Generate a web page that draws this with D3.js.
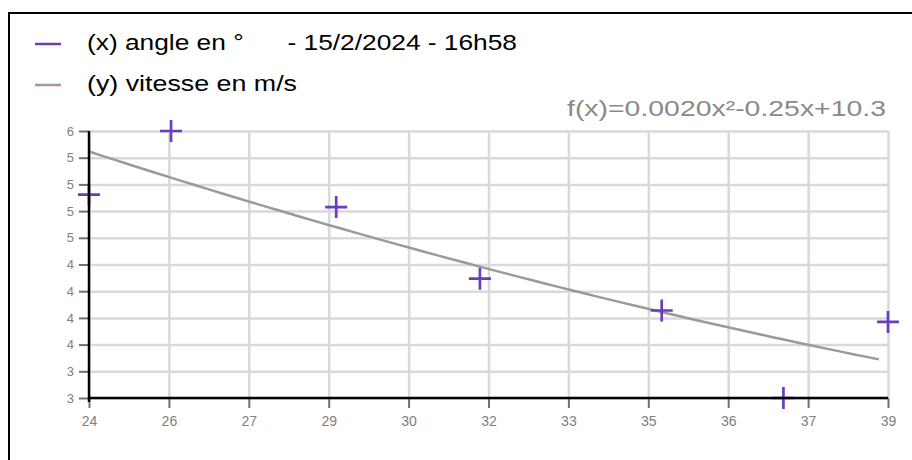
<!DOCTYPE html>
<html>
<head>
<meta charset="utf-8">
<script src="https://cdn.jsdelivr.net/npm/d3@7"></script>
<style>
  body { margin: 0; background: #fff; font-family: "Liberation Sans", Arial, sans-serif; }
  .grid line { stroke: #d9d9d9; stroke-width: 2.5; }
  .grid .domain { display: none; }
  .axis text { fill: #808080; font-size: 13px; }
  .axis line { stroke: #707070; stroke-width: 2; }
  .axis .domain { display: none; }
</style>
</head>
<body>
<svg id="chart" width="912" height="460"></svg>
<script>
// measures (x = angle, y = speed)
var angles = [24.08, 25.61, 28.69, 31.37, 34.76, 37.03, 38.98];
var speeds = [5.06, 5.62, 4.95, 4.32, 4.04, 3.27, 3.94];

var xTickLabels = ["24", "26", "27", "29", "30", "32", "33", "35", "36", "37", "39"];
var yTickLabels = ["3", "3", "4", "4", "4", "4", "5", "5", "5", "5", "6"];

// f(x) = a x² + b x + c as printed on the chart
var fitCoefs = [0.0020, -0.25, 10.3];
var fitLabel = "f(x)=0.0020x²-0.25x+10.3";
var fitEnd = 38.81;

var legendLabels = ["(x) angle en °      - 15/2/2024 - 16h58", "(y) vitesse en m/s"];
var legendColors = ["#6a3dbf", "#a8968f"];
var legendWidths = [430, 210]; // the original text is drawn wide

var svg = d3.select("#chart"),
    margin = {top: 131, right: 24, bottom: 62, left: 89},
    width = +svg.attr("width") - margin.left - margin.right,
    height = +svg.attr("height") - margin.top - margin.bottom;

// outer frame (runs off the right / bottom of the window)
svg.append("rect")
    .attr("x", 9).attr("y", 13)
    .attr("width", 1200).attr("height", 1000)
    .attr("fill", "none").attr("stroke", "#000").attr("stroke-width", 2);

// legend
var legend = svg.selectAll(".legend")
    .data(legendLabels)
    .enter().append("g")
    .attr("class", "legend")
    .attr("transform", function(d, i) { return "translate(0," + (i * 41) + ")"; });

legend.append("line")
    .attr("x1", 35).attr("x2", 61).attr("y1", 44).attr("y2", 44)
    .attr("stroke", function(d, i) { return legendColors[i]; })
    .attr("stroke-width", 2.5);

legend.append("text")
    .attr("x", 87).attr("y", 50)
    .style("font-size", "22px")
    .style("white-space", "pre")
    .attr("textLength", function(d, i) { return legendWidths[i]; })
    .attr("lengthAdjust", "spacingAndGlyphs")
    .attr("fill", "#000")
    .text(function(d) { return d; });

var g = svg.append("g").attr("transform", "translate(" + margin.left + "," + margin.top + ")");

var x = d3.scaleLinear().domain(d3.extent(angles)).range([0, width]),
    y = d3.scaleLinear().domain(d3.extent(speeds)).range([height, 0]);

var xTicks = d3.range(11).map(function(i) { return x.domain()[0] + i * (x.domain()[1] - x.domain()[0]) / 10; });
var yTicks = d3.range(11).map(function(i) { return y.domain()[0] + i * (y.domain()[1] - y.domain()[0]) / 10; });

// grid
g.append("g")
    .attr("class", "grid")
    .call(d3.axisBottom(x).tickValues(xTicks).tickSize(height).tickFormat(""));
g.append("g")
    .attr("class", "grid")
    .call(d3.axisLeft(y).tickValues(yTicks).tickSize(-width).tickFormat(""));

// axes ticks + labels
g.append("g")
    .attr("class", "axis")
    .attr("transform", "translate(0," + height + ")")
    .call(d3.axisBottom(x).tickValues(xTicks).tickSize(10).tickPadding(8)
      .tickFormat(function(d, i) { return xTickLabels[i]; }))
  .selectAll("text").style("font-size", "14px");
g.append("g")
    .attr("class", "axis")
    .call(d3.axisLeft(y).tickValues(yTicks).tickSize(10).tickPadding(5)
      .tickFormat(function(d, i) { return yTickLabels[i]; }));

// equation
svg.append("text")
    .attr("x", 567).attr("y", 116)
    .style("font-size", "22px")
    .attr("textLength", 319)
    .attr("lengthAdjust", "spacingAndGlyphs")
    .attr("fill", "#8a8a8a")
    .text(fitLabel);

// regression curve
var fitXs = d3.range(x.domain()[0], fitEnd, 0.25).concat([fitEnd]);
var fitLine = d3.line()
    .x(function(d) { return x(d); })
    .y(function(d) { return y(fitCoefs[0] * d * d + fitCoefs[1] * d + fitCoefs[2]); });

g.append("path")
    .datum(fitXs)
    .attr("d", fitLine)
    .attr("fill", "none")
    .attr("stroke", "#9a9a9a")
    .attr("stroke-width", 2.5);

// points as crosses
g.selectAll(".pt")
    .data(angles)
    .enter().append("path")
    .attr("class", "pt")
    .attr("d", function(d, i) {
      var cx = x(d), cy = y(speeds[i]);
      return "M" + (cx - 11) + "," + cy + "H" + (cx + 11) + "M" + cx + "," + (cy - 11) + "V" + (cy + 11);
    })
    .attr("stroke", legendColors[0])
    .attr("stroke-width", 2.7)
    .attr("fill", "none");

// axis lines on top
g.append("line")
    .attr("x1", 0).attr("x2", 0).attr("y1", 0).attr("y2", height + 4)
    .attr("stroke", "#000").attr("stroke-width", 2.5);
g.append("line")
    .attr("x1", 0).attr("x2", width).attr("y1", height).attr("y2", height)
    .attr("stroke", "#000").attr("stroke-width", 2.5);
</script>
</body>
</html>
